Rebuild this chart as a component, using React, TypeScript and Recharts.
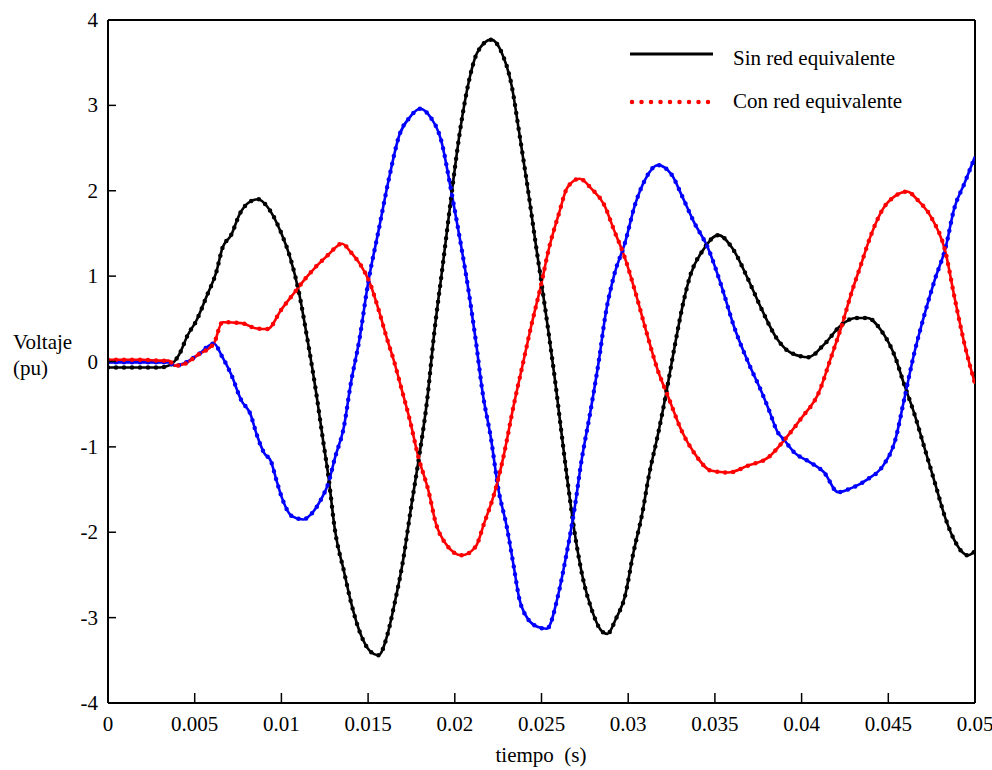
import React from "react";
import { LineChart, Line, XAxis, YAxis, ReferenceLine } from "recharts";

// Voltage per phase vs time (s). "Con red equivalente" overlays "Sin red equivalente".
const X_TICKS = [0, 0.005, 0.01, 0.015, 0.02, 0.025, 0.03, 0.035, 0.04, 0.045, 0.05];
const Y_TICKS = [-4, -3, -2, -1, 0, 1, 2, 3, 4];

const BLACK_T = [
  0, 0.001, 0.002, 0.003, 0.0036, 0.0041, 0.0046, 0.0051, 0.0057, 0.00625, 0.0066, 0.0071, 0.0076,
  0.0081, 0.00865, 0.0092, 0.01, 0.0105, 0.011, 0.0115, 0.012, 0.0124, 0.0127, 0.0131, 0.0136,
  0.014, 0.0146, 0.0151, 0.0156, 0.0161, 0.0165, 0.017, 0.0175, 0.0179, 0.0184, 0.0188, 0.0193,
  0.0198, 0.0203, 0.0208, 0.0213, 0.0221, 0.0227, 0.0233, 0.0237, 0.0242, 0.0247, 0.025, 0.0254,
  0.0258, 0.0261, 0.0265, 0.0269, 0.0274, 0.0279, 0.0284, 0.0288, 0.0293, 0.0298, 0.0303, 0.0308,
  0.0312, 0.0317, 0.0322, 0.0327, 0.0332, 0.0336, 0.0343, 0.0352, 0.036, 0.0369, 0.0377, 0.0386,
  0.0394, 0.0404, 0.0413, 0.0423, 0.0431, 0.0438, 0.0446, 0.0454, 0.0459, 0.0465, 0.0471, 0.0477,
  0.0483, 0.0488, 0.0496, 0.05,
];
const BLACK_V = [
  -0.07, -0.07, -0.07, -0.07, -0.04, 0.08, 0.31, 0.48, 0.77, 1.05, 1.33, 1.48, 1.73,
  1.86, 1.9, 1.81, 1.5, 1.22, 0.82, 0.26, -0.36, -0.92, -1.33, -1.99, -2.45,
  -2.81, -3.21, -3.39, -3.44, -3.21, -2.86, -2.35, -1.68, -1.17, -0.46, 0.31, 1.12,
  1.94, 2.7, 3.27, 3.62, 3.77, 3.62, 3.21, 2.7, 2.04, 1.33, 0.92, 0.35,
  -0.25, -0.75, -1.4, -1.99, -2.55, -2.91, -3.14, -3.19, -3.01, -2.76, -2.24, -1.79,
  -1.33, -0.87, -0.36, 0.2, 0.71, 1.02, 1.3, 1.48, 1.33, 0.97, 0.61, 0.26,
  0.1, 0.05, 0.2, 0.43, 0.51, 0.51, 0.36, 0.05, -0.26, -0.61, -1.02, -1.43,
  -1.84, -2.09, -2.27, -2.22,
];

const BLUE_T = [
  0, 0.001, 0.002, 0.003, 0.0035, 0.00385, 0.0044, 0.0052, 0.0061, 0.0066, 0.0071, 0.0077, 0.0082,
  0.0086, 0.009, 0.0094, 0.0097, 0.01, 0.0106, 0.01125, 0.0117, 0.0123, 0.0127, 0.0131, 0.0136,
  0.014, 0.0145, 0.015, 0.0156, 0.0162, 0.0168, 0.0174, 0.018, 0.0186, 0.0192, 0.0198, 0.0203,
  0.0208, 0.0212, 0.0216, 0.0221, 0.0225, 0.023, 0.0234, 0.0237, 0.0242, 0.0248, 0.0253, 0.026,
  0.0264, 0.0269, 0.0273, 0.0278, 0.0283, 0.0287, 0.0292, 0.0298, 0.0304, 0.031, 0.0317, 0.0325,
  0.0331, 0.0338, 0.0346, 0.0354, 0.0361, 0.0369, 0.0377, 0.0381, 0.0386, 0.039, 0.0396, 0.0404,
  0.0413, 0.0421, 0.0429, 0.0438, 0.0447, 0.0454, 0.0459, 0.0465, 0.0471, 0.0477, 0.0483, 0.0488,
  0.0494, 0.05,
];
const BLUE_V = [
  -0.01, -0.01, -0.01, -0.01, -0.01, -0.05, -0.02, 0.08, 0.21, 0.05, -0.15, -0.46, -0.61,
  -0.87, -1.07, -1.17, -1.38, -1.58, -1.81, -1.85, -1.79, -1.61, -1.43, -1.12, -0.77,
  -0.26, 0.26, 0.92, 1.53, 2.14, 2.65, 2.86, 2.96, 2.86, 2.6, 1.99, 1.43,
  0.82, 0.26, -0.36, -0.92, -1.48, -1.94, -2.4, -2.76, -3.01, -3.11, -3.13, -2.7,
  -2.3, -1.73, -1.17, -0.61, 0.0, 0.56, 1.02, 1.38, 1.84, 2.14, 2.3, 2.19,
  1.94, 1.63, 1.33, 0.87, 0.41, 0.0, -0.36, -0.56, -0.82, -0.92, -1.07, -1.17,
  -1.3, -1.53, -1.48, -1.38, -1.22, -0.92, -0.46, 0.1, 0.56, 0.97, 1.33, 1.79,
  2.09, 2.4,
];

const RED_T = [
  0, 0.001, 0.002, 0.003, 0.0035, 0.00385, 0.0044, 0.0052, 0.0061, 0.0066, 0.0077, 0.0085, 0.0092,
  0.01, 0.0108, 0.0115, 0.0127, 0.0135, 0.014, 0.0146, 0.0151, 0.0156, 0.0161, 0.0165, 0.0169,
  0.0174, 0.0179, 0.0185, 0.0189, 0.0195, 0.0204, 0.0212, 0.0217, 0.0223, 0.0228, 0.0234, 0.0239,
  0.0244, 0.025, 0.0254, 0.026, 0.0265, 0.0272, 0.0279, 0.0286, 0.0292, 0.0298, 0.0304, 0.0311,
  0.0317, 0.0323, 0.0331, 0.0338, 0.0348, 0.0358, 0.0369, 0.0381, 0.039, 0.04, 0.041, 0.0417,
  0.0423, 0.0429, 0.0434, 0.044, 0.0447, 0.0454, 0.0461, 0.0467, 0.0475, 0.0483, 0.0488, 0.0494,
  0.05,
];
const RED_V = [
  0.02, 0.02, 0.02, 0.01, 0.01, -0.05, -0.03, 0.08, 0.21, 0.46, 0.45, 0.39, 0.38,
  0.61, 0.82, 1.0, 1.25, 1.38, 1.28, 1.12, 0.92, 0.61, 0.26, 0.0, -0.3,
  -0.68, -1.12, -1.53, -1.89, -2.14, -2.27, -2.17, -1.89, -1.53, -1.12, -0.51, -0.05,
  0.41, 0.92, 1.3, 1.73, 2.04, 2.14, 2.02, 1.84, 1.53, 1.22, 0.82, 0.31,
  -0.1, -0.41, -0.82, -1.07, -1.28, -1.3, -1.22, -1.12, -0.92, -0.66, -0.36, 0.05,
  0.41, 0.82, 1.12, 1.48, 1.79, 1.94, 1.99, 1.89, 1.68, 1.28, 0.77, 0.2,
  -0.26,
];

const SERIES = [
  { name: "black", color: "#000000", t: BLACK_T, v: BLACK_V },
  { name: "blue", color: "#0000ff", t: BLUE_T, v: BLUE_V },
  { name: "red", color: "#ff0000", t: RED_T, v: RED_V },
];

const FONT = "Liberation Serif, DejaVu Serif, serif";
const TEXT_STYLE = { fontFamily: FONT };

function XTick(props: any) {
  const { x, y, payload } = props;
  return (
    <g>
      <line x1={x} y1={y} x2={x} y2={y - 10} stroke="#000" strokeWidth={1.5} />
      <text x={x} y={y + 28} textAnchor="middle" style={TEXT_STYLE} fontSize={21} fill="#000">
        {String(payload.value)}
      </text>
    </g>
  );
}

function YTick(props: any) {
  const { x, y, payload } = props;
  return (
    <g>
      <line x1={x} y1={y} x2={x + 8} y2={y} stroke="#000" strokeWidth={1.5} />
      <text x={x - 10} y={y + 7} textAnchor="end" style={TEXT_STYLE} fontSize={21} fill="#000">
        {String(payload.value)}
      </text>
    </g>
  );
}

export default function App() {
  return (
    <div style={{ position: "absolute", left: 0, top: 0, width: 992, height: 770, background: "#fff" }}>
      <LineChart
        width={992}
        height={770}
        margin={{ top: 20, right: 17, bottom: 37, left: 48 }}
      >
        <XAxis
          type="number"
          dataKey="t"
          domain={[0, 0.05]}
          ticks={X_TICKS}
          interval={0}
          height={30}
          tickSize={0}
          tickMargin={0}
          tick={<XTick />}
          axisLine={{ stroke: "#000", strokeWidth: 2 }}
          allowDataOverflow
        />
        <YAxis
          type="number"
          domain={[-4, 4]}
          ticks={Y_TICKS}
          interval={0}
          width={60}
          tickSize={0}
          tickMargin={0}
          tick={<YTick />}
          axisLine={{ stroke: "#000", strokeWidth: 2 }}
          allowDataOverflow
        />
        <ReferenceLine y={4} stroke="#000" strokeWidth={2} />
        <ReferenceLine x={0.05} stroke="#000" strokeWidth={2} />
        {SERIES.map((s) => (
          <Line
            key={s.name + "-sin"}
            data={s.t.map((t, i) => ({ t, v: s.v[i] }))}
            dataKey="v"
            type="monotone"
            stroke={s.color}
            strokeWidth={2.6}
            dot={false}
            activeDot={false}
            isAnimationActive={false}
          />
        ))}
        {SERIES.map((s) => (
          <Line
            key={s.name + "-con"}
            data={s.t.map((t, i) => ({ t, v: s.v[i] }))}
            dataKey="v"
            type="monotone"
            stroke={s.color}
            strokeWidth={4.5}
            strokeDasharray="0 8"
            strokeLinecap="round"
            dot={false}
            activeDot={false}
            isAnimationActive={false}
          />
        ))}
      </LineChart>
      <svg
        width={992}
        height={770}
        style={{ position: "absolute", left: 0, top: 0, pointerEvents: "none", fontFamily: FONT }}
      >
        <line x1={630} y1={54} x2={713} y2={54} stroke="#000" strokeWidth={3} />
        <text x={733} y={65} fontSize={21} fill="#000">Sin red equivalente</text>
        <line
          x1={632}
          y1={102}
          x2={710}
          y2={102}
          stroke="#ff0000"
          strokeWidth={4.5}
          strokeDasharray="0 9.5"
          strokeLinecap="round"
        />
        <text x={733} y={108} fontSize={21} fill="#000">Con red equivalente</text>
        <text x={13} y={349} fontSize={21} fill="#000">Voltaje</text>
        <text x={13} y={375} fontSize={21} fill="#000">(pu)</text>
        <text x={541} y={762} fontSize={21} textAnchor="middle" fill="#000" style={{ whiteSpace: "pre" }}>
          {"tiempo  (s)"}
        </text>
      </svg>
    </div>
  );
}
